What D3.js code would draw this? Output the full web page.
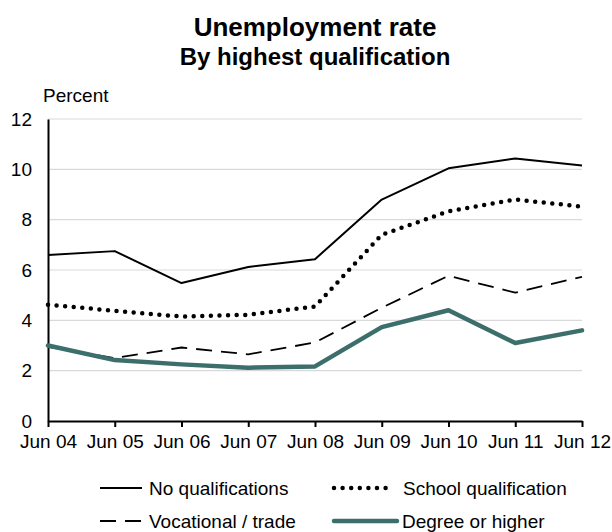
<!DOCTYPE html>
<html>
<head>
<meta charset="utf-8">
<script src="https://cdn.jsdelivr.net/npm/d3@7"></script>
<style>
  html, body { margin: 0; padding: 0; background: #fff; }
  text { font-family: "Liberation Sans", Arial, sans-serif; fill: #000; }
</style>
</head>
<body>
<svg id="chart" width="612" height="532"></svg>
<script>
// Unemployment rate by highest qualification, June years
const periods = ["Jun 04", "Jun 05", "Jun 06", "Jun 07", "Jun 08", "Jun 09", "Jun 10", "Jun 11", "Jun 12"];
const noQualifications = [6.6, 6.75, 5.48, 6.12, 6.43, 8.8, 10.04, 10.43, 10.15];
const schoolQualification = [4.62, 4.38, 4.15, 4.22, 4.55, 7.4, 8.33, 8.8, 8.52];
const vocationalTrade = [2.95, 2.5, 2.92, 2.65, 3.12, 4.5, 5.77, 5.1, 5.73];
const degreeOrHigher = [3.0, 2.42, 2.25, 2.12, 2.17, 3.73, 4.4, 3.1, 3.6];
const yTicks = [0, 2, 4, 6, 8, 10, 12];

const series = [
  { name: "No qualifications", values: noQualifications, stroke: "#000", width: 2, dash: null, cap: "butt" },
  { name: "School qualification", values: schoolQualification, stroke: "#000", width: 4.5, dash: "0,8.6", cap: "round" },
  { name: "Vocational / trade", values: vocationalTrade, stroke: "#000", width: 1.8, dash: "16,9", cap: "butt" },
  { name: "Degree or higher", values: degreeOrHigher, stroke: "#3c6e6c", width: 4.5, dash: null, cap: "round" }
];

const svg = d3.select("#chart");
const margin = { left: 48, right: 30, top: 119, bottom: 111 };
const W = 612, H = 532;
const FS = "19px";

const x = d3.scalePoint().domain(periods).range([margin.left, W - margin.right]);
const y = d3.scaleLinear().domain([0, 12]).range([H - margin.bottom, margin.top]);

// Titles
svg.append("text").attr("x", 315).attr("y", 36).attr("text-anchor", "middle")
  .style("font-size", "26px").style("font-weight", "bold").text("Unemployment rate");
svg.append("text").attr("x", 315).attr("y", 65).attr("text-anchor", "middle")
  .style("font-size", "24px").style("font-weight", "bold").text("By highest qualification");

// Gridlines
svg.append("g").selectAll("line").data(yTicks.filter(d => d > 0)).join("line")
  .attr("x1", margin.left).attr("x2", W - margin.right)
  .attr("y1", d => y(d)).attr("y2", d => y(d))
  .attr("stroke", "#d9d9d9").attr("stroke-width", 1.2);

// Y axis
const yAxis = svg.append("g").attr("transform", `translate(${margin.left},0)`)
  .call(d3.axisLeft(y).tickValues(yTicks).tickSize(0).tickPadding(16));
yAxis.select(".domain").attr("stroke", "#000").attr("stroke-width", 2);
yAxis.selectAll("text").style("font-size", FS).attr("fill", "#000");

svg.append("text").attr("x", 43).attr("y", 102).style("font-size", FS).text("Percent");

// X axis
const xAxis = svg.append("g").attr("transform", `translate(0,${y(0)})`)
  .call(d3.axisBottom(x).tickSize(6).tickSizeOuter(0).tickPadding(8));
xAxis.select(".domain").attr("stroke", "#000").attr("stroke-width", 2);
xAxis.selectAll(".tick line").attr("stroke", "#000").attr("stroke-width", 2);
xAxis.selectAll("text").style("font-size", FS).attr("fill", "#000");

// Series lines
const line = d3.line().x((d, i) => x(periods[i])).y(d => y(d));
svg.append("g").selectAll("path").data(series).join("path")
  .attr("d", s => line(s.values))
  .attr("fill", "none")
  .attr("stroke", s => s.stroke)
  .attr("stroke-width", s => s.width)
  .attr("stroke-dasharray", s => s.dash)
  .attr("stroke-linecap", s => s.cap)
  .attr("stroke-linejoin", "round");

// Legend
const legendPos = [
  { x1: 100, x2: 142, ly: 488, tx: 149 },
  { x1: 334, x2: 393, ly: 488, tx: 403 },
  { x1: 100, x2: 142, ly: 521, tx: 149 },
  { x1: 334, x2: 397, ly: 521, tx: 402 }
];
const legend = svg.append("g");
series.forEach((s, i) => {
  const p = legendPos[i];
  legend.append("line").attr("x1", p.x1).attr("x2", p.x2).attr("y1", p.ly).attr("y2", p.ly)
    .attr("stroke", s.stroke).attr("stroke-width", s.width)
    .attr("stroke-dasharray", s.dash).attr("stroke-linecap", s.cap);
  legend.append("text").attr("x", p.tx).attr("y", p.ly + 7).style("font-size", FS).text(s.name);
});
</script>
</body>
</html>
